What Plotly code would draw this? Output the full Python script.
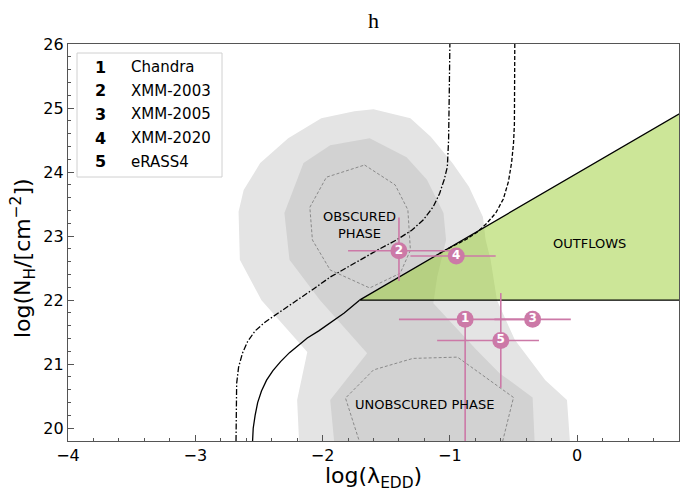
import plotly.graph_objects as go

# ---------------- data ----------------
obs_ids = ["1", "2", "3", "4", "5"]
obs_names = ["Chandra", "XMM-2003", "XMM-2005", "XMM-2020", "eRASS4"]
log_edd = [-0.88, -1.40, -0.35, -0.95, -0.60]
log_nh = [21.70, 22.77, 21.70, 22.69, 21.37]
edd_err_lo = [0.52, 0.40, 0.30, 0.36, 0.50]
edd_err_hi = [0.52, 0.40, 0.30, 0.31, 0.30]
nh_err_lo = [2.50, 0.47, 0.0, 0.0, 0.74]
nh_err_hi = [0.0, 0.52, 0.0, 0.0, 0.74]

# outer (light) density contour of the AGN population
light_x = [-1.60, -1.31, -1.15, -0.98, -0.85, -0.74, -0.72, -0.68, -0.63, -0.49, -0.25, -0.08, -0.05,
           -2.18, -2.20, -2.12, -2.48, -2.65, -2.66, -2.62, -2.49, -2.27, -2.01, -1.75]
light_y = [24.98, 24.84, 24.55, 24.14, 23.77, 23.30, 22.95, 22.63, 22.00, 21.38, 20.75, 20.44, 19.60,
           19.60, 20.44, 21.19, 22.00, 22.63, 23.38, 23.72, 24.14, 24.53, 24.84, 24.95]
# inner (dark) density contour
dark_x = [-1.63, -1.34, -1.18, -1.05, -1.03, -1.10, -1.13, -0.79, -0.61, -0.35, -0.33,
          -1.90, -1.94, -1.65, -2.02, -2.26, -2.30, -2.15, -1.94]
dark_y = [24.53, 24.23, 23.88, 23.36, 22.94, 22.36, 21.95, 21.22, 20.86, 20.48, 19.60,
          19.60, 20.44, 21.17, 22.00, 22.63, 23.36, 24.14, 24.42]
# innermost dashed contours
obsc_x = [-1.67, -1.43, -1.33, -1.31, -1.39, -1.63, -1.94, -2.08, -2.10, -1.97, -1.67]
obsc_y = [24.11, 23.80, 23.41, 22.78, 22.42, 22.19, 22.47, 22.94, 23.45, 23.92, 24.11]
unob_x = [-1.68, -1.82, -1.60, -1.29, -0.94, -0.50, -0.61]
unob_y = [19.60, 20.47, 20.91, 21.09, 21.11, 20.48, 19.60]

# forbidden / outflow region
outflow_x = [-1.71, 1.00, 1.00]
outflow_y = [22.00, 25.14, 22.00]

# effective Eddington limit curves
solid_x = [-2.55, -2.545, -2.53, -2.51, -2.48, -2.44, -2.39, -2.33, -2.26, -2.19, -2.12, -2.03, -1.94, -1.83, -1.71]
solid_y = [19.80, 20.00, 20.20, 20.40, 20.58, 20.75, 20.90, 21.04, 21.18, 21.30, 21.41, 21.52, 21.64, 21.80, 22.00]
dashdot_x = [-2.68, -2.68, -2.675, -2.66, -2.63, -2.59, -2.53, -2.45, -2.36, -2.27, -2.18, -2.06, -1.94,
             -1.82, -1.71, -1.57, -1.42, -1.30, -1.21, -1.13, -1.08, -1.045, -1.02, -1.01, -1.005, -1.00]
dashdot_y = [19.80, 20.40, 20.70, 20.95, 21.17, 21.35, 21.52, 21.66, 21.78, 21.90, 22.02, 22.19, 22.36,
             22.50, 22.63, 22.78, 22.94, 23.09, 23.25, 23.46, 23.67, 23.88, 24.08, 24.50, 25.20, 26.00]
dashed_x = [-0.49, -0.49, -0.493, -0.50, -0.515, -0.54, -0.58, -0.64, -0.71, -0.78, -0.87, -0.98, -1.08]
dashed_y = [26.00, 25.12, 24.75, 24.45, 24.15, 23.85, 23.58, 23.36, 23.20, 23.07, 22.95, 22.84, 22.73]

region_labels = ["OBSCURED<br>PHASE", "OUTFLOWS", "UNOBSCURED PHASE"]
region_x = [-1.71, 0.10, -1.20]
region_y = [23.17, 22.88, 20.375]

PINK = "#cc79a7"
FONT = "DejaVu Sans"

fig = go.Figure()
fig.add_trace(go.Scatter(x=light_x, y=light_y, fill="toself", fillcolor="#e4e4e4",
                         mode="lines", line=dict(width=0), hoverinfo="skip"))
fig.add_trace(go.Scatter(x=dark_x, y=dark_y, fill="toself", fillcolor="#d2d2d2",
                         mode="lines", line=dict(width=0), hoverinfo="skip"))
for cx, cy in [(obsc_x, obsc_y), (unob_x, unob_y)]:
    fig.add_trace(go.Scatter(x=cx, y=cy, mode="lines",
                             line=dict(color="#8a8a8a", width=1, dash="3px,2px"), hoverinfo="skip"))
fig.add_trace(go.Scatter(x=outflow_x, y=outflow_y, fill="toself", fillcolor="rgba(154,205,50,0.5)",
                         mode="lines", line=dict(width=0), hoverinfo="skip"))
fig.add_trace(go.Scatter(x=[outflow_x[1], outflow_x[0], outflow_x[2]],
                         y=[outflow_y[1], outflow_y[0], outflow_y[2]], mode="lines",
                         line=dict(color="black", width=1.3), hoverinfo="skip"))
fig.add_trace(go.Scatter(x=solid_x, y=solid_y, mode="lines",
                         line=dict(color="black", width=1.3), hoverinfo="skip"))
fig.add_trace(go.Scatter(x=dashdot_x, y=dashdot_y, mode="lines",
                         line=dict(color="black", width=1.3, dash="6px,2px,1.5px,2px"),
                         hoverinfo="skip"))
fig.add_trace(go.Scatter(x=dashed_x, y=dashed_y, mode="lines",
                         line=dict(color="black", width=1.3, dash="4px,2px"),
                         hoverinfo="skip"))

fig.add_trace(go.Scatter(
    x=log_edd, y=log_nh, mode="markers+text",
    text=[f"<b>{i}</b>" for i in obs_ids], textposition="middle center",
    textfont=dict(color="white", size=12, family=FONT),
    marker=dict(size=17, color=PINK),
    error_x=dict(type="data", symmetric=False, array=edd_err_hi, arrayminus=edd_err_lo,
                 color=PINK, thickness=1.6, width=0),
    error_y=dict(type="data", symmetric=False, array=nh_err_hi, arrayminus=nh_err_lo,
                 color=PINK, thickness=1.6, width=0),
    hoverinfo="skip"))

annotations = []
for t, x, y in zip(region_labels, region_x, region_y):
    annotations.append(dict(x=x, y=y, xref="x", yref="y", text=t, showarrow=False,
                            font=dict(family=FONT, size=13, color="black")))

# legend box built from annotations
row_y0 = 67
row_dy = 23.7
for k, (i, name) in enumerate(zip(obs_ids, obs_names)):
    py = row_y0 + k * row_dy
    yp = (441 - py) / 397
    annotations.append(dict(x=(100 - 68) / 611, y=yp, xref="paper", yref="paper", text=f"<b>{i}</b>",
                            showarrow=False, xanchor="center", yanchor="middle",
                            font=dict(family=FONT, size=16, color="black")))
    annotations.append(dict(x=(129 - 68) / 611, y=yp, xref="paper", yref="paper", text=name,
                            showarrow=False, xanchor="left", yanchor="middle",
                            font=dict(family=FONT, size=15, color="black")))

# axis titles as annotations (precise placement)
annotations.append(dict(x=(373 - 68) / 611, y=(441 - 477) / 397, xref="paper", yref="paper",
                        text="log(λ<sub>EDD</sub>)", showarrow=False, xanchor="center", yanchor="middle",
                        font=dict(family=FONT, size=22, color="black")))
annotations.append(dict(x=(23 - 68) / 611, y=(441 - 258) / 397, xref="paper", yref="paper",
                        text="log(N<sub>H</sub>/[cm<sup>−2</sup>])", showarrow=False, textangle=-90,
                        xanchor="center", yanchor="middle",
                        font=dict(family=FONT, size=22, color="black")))

shapes = [dict(type="rect", xref="paper", yref="paper",
               x0=(77 - 68) / 611, x1=(222 - 68) / 611, y0=(441 - 177) / 397, y1=(441 - 53) / 397,
               line=dict(color="#d0d0d0", width=1), fillcolor="rgba(255,255,255,0.8)", layer="above")]

axis_common = dict(showgrid=False, zeroline=False, showline=True, linecolor="#555555", linewidth=1.2,
                   mirror=True, ticks="inside", ticklen=6, tickwidth=1, tickcolor="#555555",
                   automargin=False,
                   tickfont=dict(family=FONT, size=16, color="black"),
                   minor=dict(ticks="inside", ticklen=3, tickwidth=1, tickcolor="#555555", dtick=0.2,
                              tick0=0, showgrid=False))

fig.update_layout(
    width=687, height=489,
    margin=dict(l=68, r=8, t=44, b=48),
    paper_bgcolor="white", plot_bgcolor="white",
    showlegend=False,
    title=dict(text="h", x=0.5, xref="paper", xanchor="center", y=1 - 20 / 489, yref="container",
               yanchor="middle", font=dict(family="Liberation Serif", size=22, color="black")),
    xaxis=dict(range=[-4, 0.8], dtick=1, tick0=0, **axis_common),
    yaxis=dict(range=[19.8, 26], dtick=1, tick0=0, **axis_common),
    annotations=annotations,
    shapes=shapes,
)

fig.write_html("out.html", config={"displayModeBar": False},
               post_script="document.body.style.margin='0';document.body.style.padding='0';")
